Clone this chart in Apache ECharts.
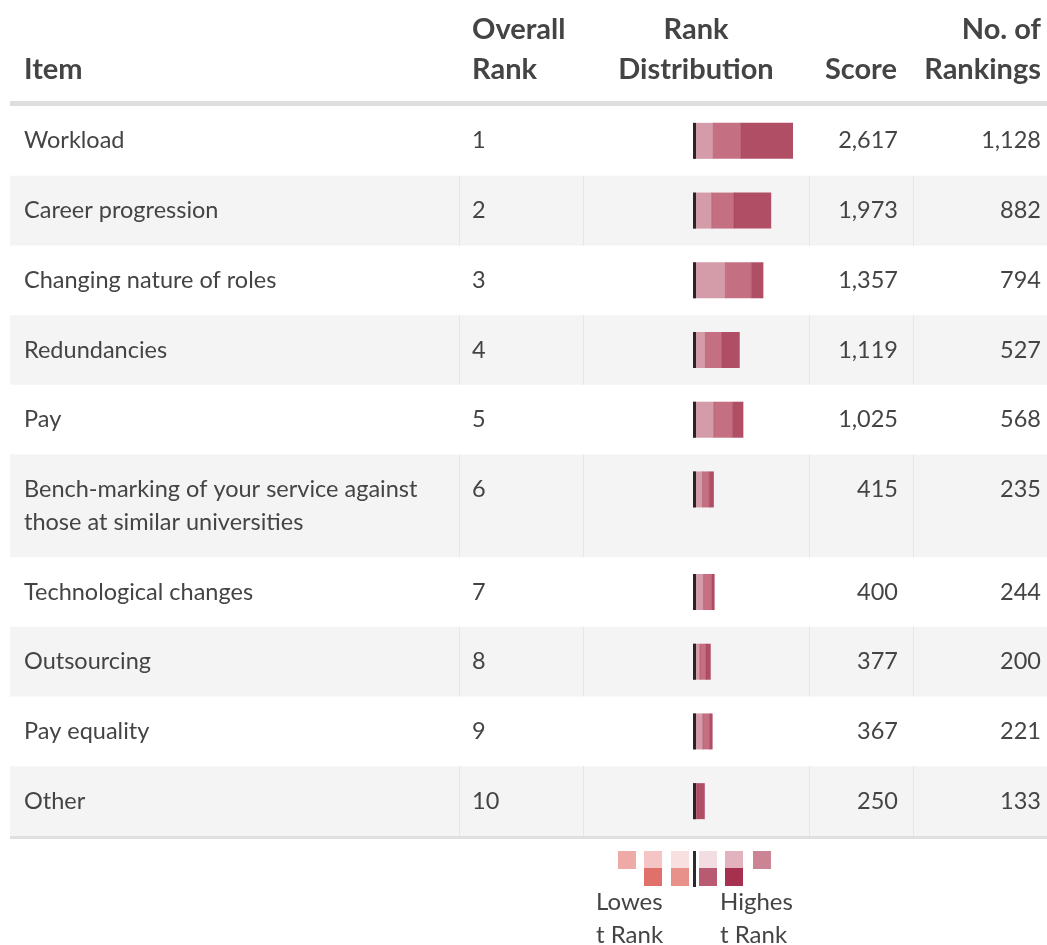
<!DOCTYPE html>
<html><head><meta charset="utf-8">
<script src="https://cdn.jsdelivr.net/npm/echarts@6/dist/echarts.min.js"></script>
<style>html,body{margin:0;padding:0;background:#fff}#c{width:1047px;height:945px}</style>
</head><body><div id="c"></div>
<script>
// ---- data ----
const items = ['Workload','Career progression','Changing nature of roles','Redundancies','Pay',
  'Bench-marking of your service against\nthose at similar universities',
  'Technological changes','Outsourcing','Pay equality','Other'];
const overallRank = [1,2,3,4,5,6,7,8,9,10];
const scores = [2617,1973,1357,1119,1025,415,400,377,367,250];
const rankingsCount = [1128,882,794,527,568,235,244,200,221,133];
// rank distribution segments (count of rankings in each rank position)
const rank3 = [229,211,366,140,234,107,118,78,110,15];
const rank2 = [309,251,293,182,211,76,96,67,76,25];
const rank1 = [590,420,135,205,123,52,30,55,35,93];
const headers = {item:'Item', rank:['Overall','Rank'], dist:['Rank','Distribution'], score:'Score', count:['No. of','Rankings']};
const legendLow = ['Lowes','t Rank'];
const legendHigh = ['Highes','t Rank'];

// ---- layout helpers ----
const FONT = 'Lato, "Noto Sans", sans-serif';
const BODY = '23.5px ' + FONT;
const TXT = '#444';
const PAD = 37/33;
const fmt = v => v.toLocaleString('en-US');
const lines = items.map(s => s.split('\n').length);
let acc = 0;
const rowData = items.map((s,i) => { const top = acc; acc += lines[i] + PAD; return [i, top, acc]; });
const totalUnits = acc;
const lineY = (i,k) => rowData[i][1] + PAD/2 + 0.5 + (k||0);
const segSets = [rank3, rank2, rank1];
const segColors = ['#d49ba8','#c47082','#b04e66'];
const segData = [];
items.forEach((s,i) => {
  let start = 0;
  segSets.forEach((arr,k) => { segData.push([start, start+arr[i], lineY(i), k]); start += arr[i]; });
});
const zeroData = items.map((s,i) => [0, lineY(i)]);

const chart = echarts.init(document.getElementById('c'), null, {renderer:'canvas'});

function rowRender(params, api){
  const i = api.value(0);
  const yTop = api.coord([0, api.value(1)])[1];
  const yBot = api.coord([0, api.value(2)])[1];
  const children = [];
  if (i % 2 === 1) {
    children.push({type:'rect', shape:{x:10,y:yTop,width:1037,height:yBot-yTop}, style:{fill:'#f4f4f4'}});
    [459,583,809,913].forEach(x => children.push({type:'rect', shape:{x:x,y:yTop,width:1,height:yBot-yTop}, style:{fill:'#e6e6e6'}}));
  }
  const itemLines = items[i].split('\n');
  itemLines.forEach((t,k) => {
    const y = api.coord([0, lineY(i,k)])[1];
    children.push({type:'text', style:{text:t, x:24, y:y, font:BODY, fill:TXT, textAlign:'left', textVerticalAlign:'middle'}});
  });
  const y0 = api.coord([0, lineY(i)])[1];
  children.push({type:'text', style:{text:String(overallRank[i]), x:472, y:y0, font:BODY, fill:TXT, textAlign:'left', textVerticalAlign:'middle'}});
  children.push({type:'text', style:{text:fmt(scores[i]), x:898, y:y0, font:BODY, fill:TXT, textAlign:'right', textVerticalAlign:'middle'}});
  children.push({type:'text', style:{text:fmt(rankingsCount[i]), x:1041, y:y0, font:BODY, fill:TXT, textAlign:'right', textVerticalAlign:'middle'}});
  return {type:'group', children};
}

function segRender(params, api){
  const p0 = api.coord([api.value(0), api.value(2)]);
  const p1 = api.coord([api.value(1), api.value(2)]);
  const h = 36;
  const k = api.value(3);
  const w = p1[0]-p0[0];
  const children = [{type:'rect', shape:{x:p0[0], y:p0[1]-h/2, width:w, height:h}, style:{fill:segColors[k]}}];
  if (k > 0 && w > 0) children.push({type:'rect', shape:{x:p0[0]-0.5, y:p0[1]-h/2, width:1, height:h}, style:{fill:'rgba(150,40,70,0.35)'}});
  return {type:'group', children};
}
function zeroRender(params, api){
  const p = api.coord([api.value(0), api.value(1)]);
  return {type:'rect', shape:{x:p[0], y:p[1]-18, width:3, height:36}, style:{fill:'#2b2327'}};
}

const hdrBold = '700 29px '+FONT;
const graphics = [
  {type:'rect', shape:{x:10,y:101,width:1037,height:5}, style:{fill:'#dedede'}, z:10},
  {type:'rect', shape:{x:10,y:836,width:1037,height:3}, style:{fill:'#e0e0e0'}, z:10},
  {type:'text', style:{text:headers.item, x:24, y:70, font:hdrBold, fill:TXT, textAlign:'left', textVerticalAlign:'middle'}},
  {type:'text', style:{text:headers.rank[0], x:472, y:30, font:hdrBold, fill:TXT, textAlign:'left', textVerticalAlign:'middle'}},
  {type:'text', style:{text:headers.rank[1], x:472, y:70, font:hdrBold, fill:TXT, textAlign:'left', textVerticalAlign:'middle'}},
  {type:'text', style:{text:headers.dist[0], x:696, y:30, font:hdrBold, fill:TXT, textAlign:'center', textVerticalAlign:'middle'}},
  {type:'text', style:{text:headers.dist[1], x:696, y:70, font:hdrBold, fill:TXT, textAlign:'center', textVerticalAlign:'middle'}},
  {type:'text', style:{text:headers.score, x:897, y:70, font:hdrBold, fill:TXT, textAlign:'right', textVerticalAlign:'middle'}},
  {type:'text', style:{text:headers.count[0], x:1041, y:30, font:hdrBold, fill:TXT, textAlign:'right', textVerticalAlign:'middle'}},
  {type:'text', style:{text:headers.count[1], x:1041, y:70, font:hdrBold, fill:TXT, textAlign:'right', textVerticalAlign:'middle'}}
];
// legend swatches
const legTop = ['#eeaaa6','#f5c5c5','#f9e0e0','#f2dde2','#e2b3be','#cc8494'];
const legTopX = [618,644,671,699,725,753];
const legBot = ['#e0706a','#e8908a','#b85a72','#a6304f'];
const legBotX = [644,671,699,725];
legTop.forEach((c,i)=>graphics.push({type:'rect', shape:{x:legTopX[i],y:851,width:18,height:18}, style:{fill:c}}));
legBot.forEach((c,i)=>graphics.push({type:'rect', shape:{x:legBotX[i],y:868,width:18,height:18}, style:{fill:c}}));
graphics.push({type:'rect', shape:{x:693,y:851,width:3,height:36}, style:{fill:'#2b2b2b'}});
legendLow.forEach((t,k)=>graphics.push({type:'text', style:{text:t, x:596, y:902+k*33, font:'24px '+FONT, fill:TXT, textAlign:'left', textVerticalAlign:'middle'}}));
legendHigh.forEach((t,k)=>graphics.push({type:'text', style:{text:t, x:720, y:902+k*33, font:'24px '+FONT, fill:TXT, textAlign:'left', textVerticalAlign:'middle'}}));

chart.setOption({
  animation:false,
  backgroundColor:'#fff',
  grid:{left:693, width:100, top:106, height:730},
  xAxis:{type:'value', min:0, max:Math.max(...rankingsCount), show:false},
  yAxis:{type:'value', min:0, max:totalUnits, inverse:true, show:false},
  graphic: graphics,
  series:[
    {type:'custom', name:'rows', renderItem:rowRender, data:rowData, z:1, clip:false, silent:true},
    {type:'custom', name:'dist', renderItem:segRender, data:segData, z:3, clip:false, silent:true},
    {type:'custom', name:'zero', renderItem:zeroRender, data:zeroData, z:4, clip:false, silent:true}
  ]
});
</script></body></html>
